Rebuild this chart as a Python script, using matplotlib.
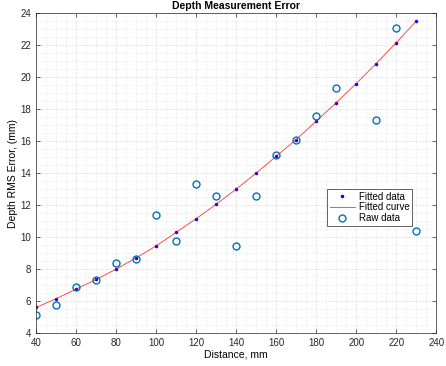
import matplotlib.pyplot as plt
from matplotlib.ticker import MultipleLocator

distance = [40, 50, 60, 70, 80, 90, 100, 110, 120, 130,
            140, 150, 160, 170, 180, 190, 200, 210, 220, 230]
fitted = [5.6, 6.15, 6.75, 7.35, 8.0, 8.7, 9.45, 10.3, 11.15, 12.05,
          13.0, 14.0, 15.05, 16.1, 17.25, 18.4, 19.6, 20.85, 22.15, 23.5]

raw_distance = [40, 50, 60, 70, 80, 90, 100, 110, 120, 130,
                140, 150, 160, 170, 180, 190, 210, 220, 230]
raw_error = [5.1, 5.75, 6.9, 7.3, 8.35, 8.6, 11.4, 9.75, 13.35, 12.6,
             9.45, 12.6, 15.15, 16.05, 17.6, 19.3, 17.3, 23.1, 10.4]

plt.rcParams['font.family'] = ['Liberation Sans', 'DejaVu Sans']

fig = plt.figure(figsize=(4.46, 3.66), dpi=100)
ax = fig.add_axes([0.081, 0.090, 0.897, 0.874])

ax.plot(distance, fitted, '.', color='#0000ff', markersize=3, label='Fitted data')
ax.plot(distance, fitted, '-', color='#ff0000', lw=0.6, alpha=0.8, label='Fitted curve')
ax.plot(raw_distance, raw_error, 'o', mfc='none', mec='#0072bd', mew=1.0,
        markersize=5, label='Raw data')

ax.set_xlim(40, 240)
ax.set_ylim(4, 24)
ax.xaxis.set_major_locator(MultipleLocator(20))
ax.yaxis.set_major_locator(MultipleLocator(2))
ax.xaxis.set_minor_locator(MultipleLocator(5))
ax.yaxis.set_minor_locator(MultipleLocator(0.5))
ax.grid(which='major', color='#d0d0d0', linestyle=':', lw=0.6)
ax.grid(which='minor', color='#dcdcdc', linestyle=':', lw=0.5)
ax.tick_params(which='both', direction='in', top=True, right=True,
               labelsize=7, colors='#262626', length=3, width=0.5)
ax.tick_params(which='minor', length=0)
for s in ax.spines.values():
    s.set_color('#262626')
    s.set_linewidth(0.5)

ax.set_xlabel('Distance, mm', fontsize=7.5, labelpad=1)
ax.set_ylabel('Depth RMS Error, (mm)', fontsize=7.5, labelpad=2)
ax.set_title('Depth Measurement Error', fontsize=7.5, fontweight='bold', pad=3)

leg = ax.legend(loc='lower left', bbox_to_anchor=(0.7275, 0.335), fontsize=7,
                fancybox=False, edgecolor='#262626', framealpha=1,
                borderaxespad=0, borderpad=0.25, labelspacing=0.1,
                handlelength=2.6, handletextpad=0.4)
leg.get_frame().set_linewidth(0.5)

fig.savefig('out.png', dpi=100)
